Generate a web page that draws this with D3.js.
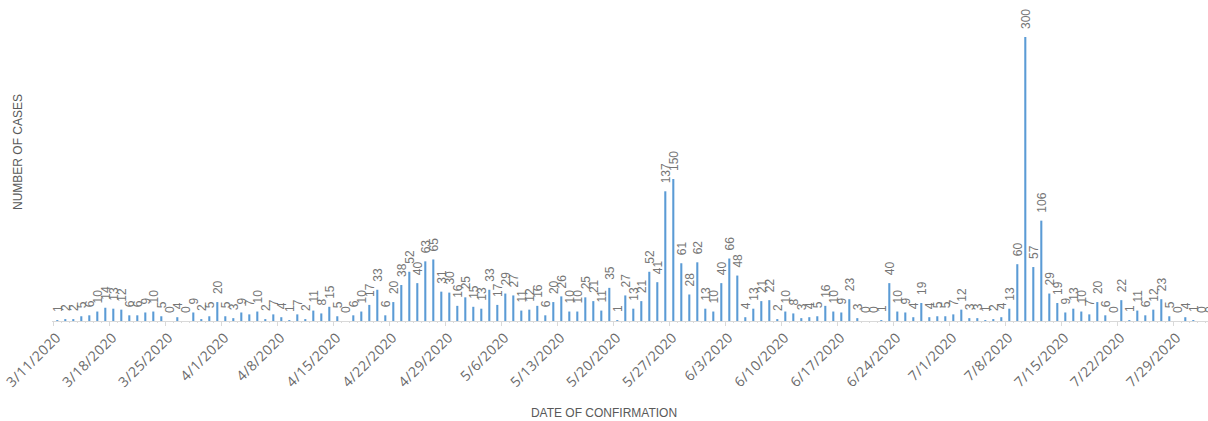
<!DOCTYPE html>
<meta charset="utf-8">
<style>
body{margin:0;background:#fff;}
text{font-family:"Liberation Sans",Arial,sans-serif;}
.lbl{font-size:12px;fill:#767676;}
.tick{font-family:"Open Sans",sans-serif;font-size:14px;fill:#6a6a6a;letter-spacing:0.4px;}
.title{font-size:12px;fill:#595959;}
</style>
<body>
<script src="https://d3js.org/d3.v7.min.js"></script>
<script>

var startDate = new Date(2020, 2, 11);

var cases = [
  1,2,2,5,6,10,14,13,12,6,6,9,10,5,0,4,0,9,2,5,20,
  5,3,9,7,10,2,7,4,1,7,2,11,8,15,5,0,6,10,17,33,6,20,38,52,40,
  63,65,31,30,16,25,15,13,33,17,29,27,11,12,16,6,20,26,10,10,25,21,
  11,35,1,27,13,21,52,41,137,150,61,28,62,13,10,40,66,48,4,13,21,22,2,
  10,8,3,4,5,16,10,9,23,3,0,0,1,40,10,9,4,19,4,5,5,7,12,3,3,1,2,4,13,60,300,
  57,106,29,19,9,13,10,7,20,6,0,22,1,11,6,12,23,5,0,4,1,0,0
];

var tickLabels = ["3/11/2020","3/18/2020","3/25/2020","4/1/2020","4/8/2020","4/15/2020",
  "4/22/2020","4/29/2020","5/6/2020","5/13/2020","5/20/2020","5/27/2020","6/3/2020",
  "6/10/2020","6/17/2020","6/24/2020","7/1/2020","7/8/2020","7/15/2020","7/22/2020","7/29/2020"];

var fmt = d3.timeFormat("%-m/%-d/%Y");
var data = cases.map(function(v, i){
  return {date: fmt(d3.timeDay.offset(startDate, i)), value: v};
});

var W = 1208, H = 421;
var svg = d3.select("body").append("svg").attr("width", W).attr("height", H);

var x = d3.scaleBand()
  .domain(data.map(d => d.date))
  .range([53.3, 53.3 + 8 * data.length])
  .paddingInner(0.74)
  .paddingOuter(0.37);

var y = d3.scaleLinear().domain([0, 300]).range([321, 37]);

// axis line + ticks
svg.append("line")
  .attr("x1", 52).attr("x2", W).attr("y1", 321.5).attr("y2", 321.5)
  .attr("stroke", "#d9d9d9");

svg.append("g").selectAll("line").data(data).join("line")
  .attr("x1", d => Math.round(x(d.date) - x.step() * 0.37) + 0.5)
  .attr("x2", d => Math.round(x(d.date) - x.step() * 0.37) + 0.5)
  .attr("y1", 321).attr("y2", (d, i) => i % 7 == 0 ? 326 : 323)
  .attr("stroke", "#d9d9d9");

// bars
svg.append("g").selectAll("rect").data(data).join("rect")
  .attr("x", d => x(d.date))
  .attr("width", x.bandwidth())
  .attr("y", d => y(d.value))
  .attr("height", d => y(0) - y(d.value))
  .attr("fill", "#5b9bd5");

// value labels
svg.append("g").selectAll("text").data(data).join("text")
  .attr("class", "lbl")
  .attr("transform", d => "translate(" + (x(d.date) + x.bandwidth() / 2) + "," + (y(d.value) - 8) + ") rotate(-90)")
  .attr("dy", "0.35em")
  .text(d => d.value);

// date tick labels
svg.append("g").selectAll("text").data(tickLabels).join("text")
  .attr("class", "tick")
  .attr("text-anchor", "end")
  .attr("transform", d => "translate(" + (x(d) + x.bandwidth() / 2 + 1) + ",335) rotate(-45)")
  .attr("dy", "0.35em")
  .text(d => d);

svg.append("text").attr("class", "title")
  .attr("x", 604).attr("y", 417).attr("text-anchor", "middle")
  .text("DATE OF CONFIRMATION");

svg.append("text").attr("class", "title")
  .attr("transform", "translate(22,152) rotate(-90)")
  .attr("text-anchor", "middle")
  .text("NUMBER OF CASES");
</script>
</body>
</html>
